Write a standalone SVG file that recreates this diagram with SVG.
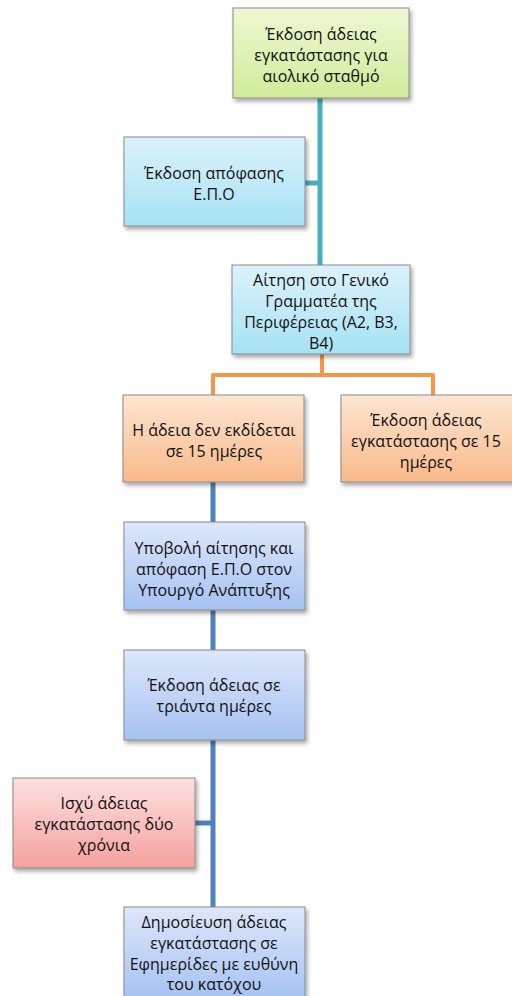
<svg xmlns="http://www.w3.org/2000/svg" width="512" height="996" viewBox="0 0 512 996">
  <defs>
    <linearGradient id="gGreen" x1="0" y1="0" x2="0" y2="1">
      <stop offset="0" stop-color="#eff8d4"/>
      <stop offset="1" stop-color="#cfec9a"/>
    </linearGradient>
    <linearGradient id="gCyan" x1="0" y1="0" x2="0" y2="1">
      <stop offset="0" stop-color="#dcf2fa"/>
      <stop offset="1" stop-color="#a6e2f5"/>
    </linearGradient>
    <linearGradient id="gOrange" x1="0" y1="0" x2="0" y2="1">
      <stop offset="0" stop-color="#fde6d2"/>
      <stop offset="1" stop-color="#f9b98a"/>
    </linearGradient>
    <linearGradient id="gBlue" x1="0" y1="0" x2="0" y2="1">
      <stop offset="0" stop-color="#dde7fb"/>
      <stop offset="1" stop-color="#a6c2f2"/>
    </linearGradient>
    <linearGradient id="gRed" x1="0" y1="0" x2="0" y2="1">
      <stop offset="0" stop-color="#fde0e0"/>
      <stop offset="1" stop-color="#f4a19e"/>
    </linearGradient>
    <filter id="shadow" x="-10%" y="-10%" width="130%" height="130%">
      <feGaussianBlur in="SourceAlpha" stdDeviation="2"/>
      <feOffset dx="2" dy="3" result="b"/>
      <feComponentTransfer><feFuncA type="linear" slope="0.35"/></feComponentTransfer>
      <feMerge><feMergeNode/><feMergeNode in="SourceGraphic"/></feMerge>
    </filter>
  </defs>
  <style>
    .box { stroke: #8a8a8a; stroke-width: 1; filter: url(#shadow); }
    .lbl { font-family: "Open Sans", "Noto Sans", "DejaVu Sans", sans-serif; font-size: 16px; fill: #111; text-anchor: middle; }
    .c-cyan { stroke: #4bacc6; stroke-width: 5; fill: none; }
    .c-orange { stroke: #f79646; stroke-width: 4; fill: none; stroke-linejoin: round; }
    .c-blue { stroke: #4f81bd; stroke-width: 5; fill: none; }
  </style>

  <!-- connectors -->
  <g id="connectors">
    <path class="c-cyan" d="M320 98 V265 M305 183 H320"/>
    <path class="c-orange" d="M322 354 V375 M213 395 V375 H433 V395"/>
    <path class="c-blue" d="M213 482 V522 M213 610 V650 M213 740 V907 M195 823 H213"/>
  </g>

  <g id="n1">
    <rect class="box" x="233" y="8" width="176" height="90" fill="url(#gGreen)"/>
    <text class="lbl" x="321" y="40">Έκδοση άδειας</text>
    <text class="lbl" x="321" y="61">εγκατάστασης για</text>
    <text class="lbl" x="321" y="82">αιολικό σταθμό</text>
  </g>

  <g id="n2">
    <rect class="box" x="124" y="137" width="181" height="89" fill="url(#gCyan)"/>
    <text class="lbl" x="214" y="179">Έκδοση απόφασης</text>
    <text class="lbl" x="214" y="200">Ε.Π.Ο</text>
  </g>

  <g id="n3">
    <rect class="box" x="232" y="265" width="178" height="89" fill="url(#gCyan)"/>
    <text class="lbl" x="321" y="286">Αίτηση στο Γενικό</text>
    <text class="lbl" x="321" y="307">Γραμματέα της</text>
    <text class="lbl" x="321" y="328">Περιφέρειας (Α2, Β3,</text>
    <text class="lbl" x="321" y="349">Β4)</text>
  </g>

  <g id="n4">
    <rect class="box" x="123" y="395" width="181" height="87" fill="url(#gOrange)"/>
    <text class="lbl" x="214" y="436">Η άδεια δεν εκδίδεται</text>
    <text class="lbl" x="214" y="457">σε 15 ημέρες</text>
  </g>

  <g id="n5">
    <rect class="box" x="341" y="395" width="180" height="87" fill="url(#gOrange)"/>
    <text class="lbl" x="426" y="426">Έκδοση άδειας</text>
    <text class="lbl" x="426" y="447">εγκατάστασης σε 15</text>
    <text class="lbl" x="426" y="468">ημέρες</text>
  </g>

  <g id="n6">
    <rect class="box" x="124" y="522" width="181" height="88" fill="url(#gBlue)"/>
    <text class="lbl" x="214" y="554">Υποβολή αίτησης και</text>
    <text class="lbl" x="214" y="575">απόφαση Ε.Π.Ο στον</text>
    <text class="lbl" x="214" y="596">Υπουργό Ανάπτυξης</text>
  </g>

  <g id="n7">
    <rect class="box" x="124" y="650" width="181" height="90" fill="url(#gBlue)"/>
    <text class="lbl" x="214" y="691">Έκδοση άδειας σε</text>
    <text class="lbl" x="214" y="712">τριάντα ημέρες</text>
  </g>

  <g id="n8">
    <rect class="box" x="13" y="778" width="182" height="90" fill="url(#gRed)"/>
    <text class="lbl" x="104" y="809">Ισχύ άδειας</text>
    <text class="lbl" x="104" y="830">εγκατάστασης δύο</text>
    <text class="lbl" x="104" y="851">χρόνια</text>
  </g>

  <g id="n9">
    <rect class="box" x="124" y="907" width="181" height="92" fill="url(#gBlue)"/>
    <text class="lbl" x="214" y="928">Δημοσίευση άδειας</text>
    <text class="lbl" x="214" y="949">εγκατάστασης σε</text>
    <text class="lbl" x="214" y="970">Εφημερίδες με ευθύνη</text>
    <text class="lbl" x="214" y="990">του κατόχου</text>
  </g>
</svg>
